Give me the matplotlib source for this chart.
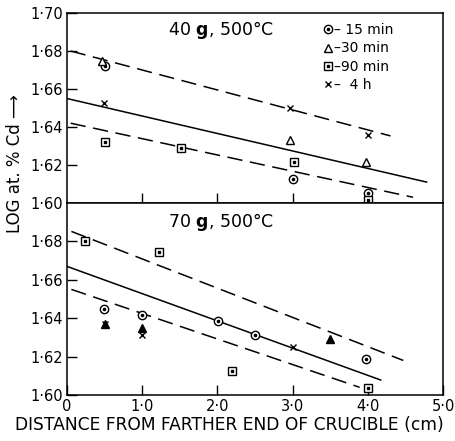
import matplotlib
matplotlib.use("Agg")
import matplotlib.pyplot as plt
from matplotlib.legend_handler import HandlerTuple
from matplotlib.ticker import FuncFormatter

# values (distance in cm, LOG at.% Cd)
# 40 g panel
top_c_x = [0.5, 3.0, 4.0]
top_c_y = [1.672, 1.6126, 1.605]
top_t_x = [0.47, 2.97, 3.98]
top_t_y = [1.6747, 1.633, 1.6216]
top_s_x = [0.5, 1.52, 3.02, 4.0]
top_s_y = [1.632, 1.629, 1.6216, 1.6016]
top_x_x = [0.49, 2.96, 4.0]
top_x_y = [1.6526, 1.650, 1.636]

# fitted lines (end points) in the 40 g panel
top_up_x, top_up_y = [0.05, 4.3], [1.680, 1.6353]
top_mid_x, top_mid_y = [0.0, 4.78], [1.655, 1.611]
top_lo_x, top_lo_y = [0.05, 4.6], [1.642, 1.603]

# 70 g panel
bot_c_x = [0.49, 1.0, 2.01, 2.5, 3.97]
bot_c_y = [1.6447, 1.6416, 1.6384, 1.631, 1.619]
bot_t_x = [0.5, 1.0, 3.5]
bot_t_y = [1.637, 1.635, 1.629]
bot_s_x = [0.24, 1.22, 2.2, 4.0]
bot_s_y = [1.680, 1.6743, 1.6125, 1.6036]
bot_x_x = [0.5, 1.0, 3.0]
bot_x_y = [1.637, 1.631, 1.625]

bot_up_x, bot_up_y = [0.06, 4.47], [1.6852, 1.618]
bot_mid_x, bot_mid_y = [0.0, 4.17], [1.667, 1.6078]
bot_lo_x, bot_lo_y = [0.06, 3.89], [1.655, 1.604]

y_ticks = [1.60, 1.62, 1.64, 1.66, 1.68, 1.70]
x_ticks = [0, 1, 2, 3, 4, 5]

plt.rcParams['font.family'] = ['DejaVu Sans']
k = 'black'
dash = (0, (10, 5))

fig = plt.figure(figsize=(4.55, 4.41), dpi=100)
ax1 = fig.add_axes([0.147, 0.5397, 0.827, 0.4308])
ax2 = fig.add_axes([0.147, 0.1043, 0.827, 0.4354])


def draw(ax, c, t, s, x, lines, tri_fill):
    for (lx, ly), st in zip(lines, [dash, '-', dash]):
        ax.plot(lx, ly, color=k, lw=1.1, ls=st)
    hc = ax.plot(c[0], c[1], 'o', ms=6, mfc='white', mec=k, mew=1.0, ls='none')[0]
    hcd = ax.plot(c[0], c[1], 'o', ms=1.6, color=k, ls='none')[0]
    ht = ax.plot(t[0], t[1], '^', ms=6, mfc=tri_fill, mec=k, mew=1.0, ls='none')[0]
    hs = ax.plot(s[0], s[1], 's', ms=5.5, mfc='white', mec=k, mew=1.0, ls='none')[0]
    hsd = ax.plot(s[0], s[1], 's', ms=1.5, color=k, ls='none')[0]
    hx = ax.plot(x[0], x[1], 'x', ms=5, mec=k, mew=1.0, ls='none')[0]
    return hc, hcd, ht, hs, hsd, hx


h = draw(ax1, (top_c_x, top_c_y), (top_t_x, top_t_y), (top_s_x, top_s_y),
         (top_x_x, top_x_y),
         [(top_up_x, top_up_y), (top_mid_x, top_mid_y), (top_lo_x, top_lo_y)],
         'white')
draw(ax2, (bot_c_x, bot_c_y), (bot_t_x, bot_t_y), (bot_s_x, bot_s_y),
     (bot_x_x, bot_x_y),
     [(bot_up_x, bot_up_y), (bot_mid_x, bot_mid_y), (bot_lo_x, bot_lo_y)],
     'black')

fmt_y = FuncFormatter(lambda v, p: ('%.2f' % v).replace('.', '\u00b7'))
fmt_x = FuncFormatter(lambda v, p: '0' if v == 0 else ('%.1f' % v).replace('.', '\u00b7'))

for ax in (ax1, ax2):
    ax.set_xlim(0, 5)
    ax.set_ylim(1.60, 1.70)
    ax.tick_params(direction='in', length=7, width=1, labelsize=10.5, pad=3)
    ax.yaxis.set_major_formatter(fmt_y)
    for sp in ax.spines.values():
        sp.set_linewidth(1.1)

ax1.set_yticks(y_ticks)
ax1.set_xticks(x_ticks[1:5])
ax1.tick_params(axis='x', labelbottom=False)
ax2.set_yticks(y_ticks[:-1])
ax2.set_xticks(x_ticks)
ax2.xaxis.set_major_formatter(fmt_x)

ax1.text(0.41, 0.91, '40 $\\mathbf{g}$, 500°C', transform=ax1.transAxes,
         ha='center', va='center', fontsize=12.5)
ax2.text(0.41, 0.90, '70 $\\mathbf{g}$, 500°C', transform=ax2.transAxes,
         ha='center', va='center', fontsize=12.5)

ax1.legend([(h[0], h[1]), h[2], (h[3], h[4]), h[5]],
           ['\u2013 15 min', '\u201330 min', '\u201390 min', '\u2013  4 h'],
           handler_map={tuple: HandlerTuple(ndivide=1)},
           loc='upper left', bbox_to_anchor=(0.665, 0.975), frameon=False,
           handlelength=0.7, handletextpad=0.1, labelspacing=0.3,
           borderaxespad=0.0, fontsize=10)

fig.text(0.032, 0.63, 'LOG at. % Cd \u27f6', rotation=90, ha='center',
         va='center', fontsize=12)
fig.text(0.505, 0.036, 'DISTANCE FROM FARTHER END OF CRUCIBLE (cm)',
         ha='center', va='center', fontsize=12.3)

fig.savefig('out.png', dpi=100)
